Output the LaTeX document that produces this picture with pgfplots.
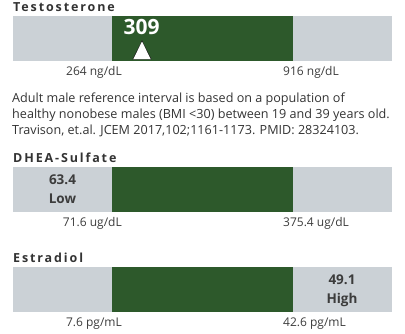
\documentclass[border=0pt]{standalone}
\usepackage{fontspec}
\setmainfont{Open Sans}
\newfontfamily\spaced{Open Sans}[LetterSpace=15]
\usepackage{pgfplots}
\pgfplotsset{compat=1.18}
\definecolor{bargray}{RGB}{203,209,214}
\definecolor{bargreen}{RGB}{45,89,43}
\definecolor{txt}{RGB}{51,51,51}
\definecolor{lbl}{RGB}{60,60,60}
\pgfplotsset{panel/.style={width=379pt,height=45pt,scale only axis,xmin=0,xmax=379,ymin=0,ymax=1,hide axis,clip=false,anchor=north west}}
\newcommand{\titlefont}{\fontsize{12.5}{14}\spaced\bfseries\color{txt}}
\newcommand{\rangefont}{\fontsize{12}{14}\selectfont\color{lbl}}
\newcommand{\valfont}{\fontsize{13.5}{16}\selectfont\bfseries\color{lbl}}
\begin{document}
\begin{tikzpicture}[x=1pt,y=1pt]
\path[use as bounding box] (0,0) rectangle (405,-334);
% ---------------- Testosterone
\begin{axis}[panel, at={(13pt,-16pt)}]
\addplot[fill=bargray,draw=none] coordinates {(0,0)(379,0)(379,1)(0,1)};
\addplot[fill=bargreen,draw=none] coordinates {(99,0)(280,0)(280,1)(99,1)};
\addplot[only marks, mark=triangle*, mark size=10.6pt, mark options={fill=white,draw=none,yscale=1.17}] coordinates {(129,0.176)};
\node[anchor=base, font=\fontsize{21}{24}\selectfont\bfseries, text=white, inner sep=0] at (axis cs:128.5,0.594) {309};
\node[anchor=base west, inner sep=0, font=\titlefont] at (axis cs:0,1.089) {Testosterone};
\node[anchor=base east, inner sep=0, font=\rangefont] at (axis cs:109,-0.333) {264 ng/dL};
\node[anchor=base west, inner sep=0, font=\rangefont] at (axis cs:270,-0.333) {916 ng/dL};
\end{axis}
% ---------------- paragraph
\begin{scope}[every node/.style={anchor=base west, inner sep=0, font=\fontsize{12.6}{16}\selectfont\color{txt}}]
\node at (12,-103) {Adult male reference interval is based on a population of};
\node at (12,-119) {healthy nonobese males (BMI <30) between 19 and 39 years old.};
\node at (12,-135) {Travison, et.al. JCEM 2017,102;1161-1173. PMID: 28324103.};
\end{scope}
% ---------------- DHEA-Sulfate
\begin{axis}[panel, at={(13pt,-167pt)}]
\addplot[fill=bargray,draw=none] coordinates {(0,0)(379,0)(379,1)(0,1)};
\addplot[fill=bargreen,draw=none] coordinates {(99,0)(280,0)(280,1)(99,1)};
\node[anchor=base west, inner sep=0, font=\titlefont] at (axis cs:0,1.089) {DHEA-Sulfate};
\node[anchor=base, inner sep=0, font=\valfont] at (axis cs:49.5,0.6) {63.4};
\node[anchor=base, inner sep=0, font=\valfont] at (axis cs:49.5,0.178) {Low};
\node[anchor=base east, inner sep=0, font=\rangefont] at (axis cs:109,-0.333) {71.6 ug/dL};
\node[anchor=base west, inner sep=0, font=\rangefont] at (axis cs:270,-0.333) {375.4 ug/dL};
\end{axis}
% ---------------- Estradiol
\begin{axis}[panel, at={(13pt,-267pt)}]
\addplot[fill=bargray,draw=none] coordinates {(0,0)(379,0)(379,1)(0,1)};
\addplot[fill=bargreen,draw=none] coordinates {(99,0)(280,0)(280,1)(99,1)};
\node[anchor=base west, inner sep=0, font=\titlefont] at (axis cs:0,1.089) {Estradiol};
\node[anchor=base, inner sep=0, font=\valfont] at (axis cs:329,0.6) {49.1};
\node[anchor=base, inner sep=0, font=\valfont] at (axis cs:329,0.178) {High};
\node[anchor=base east, inner sep=0, font=\rangefont] at (axis cs:109,-0.333) {7.6 pg/mL};
\node[anchor=base west, inner sep=0, font=\rangefont] at (axis cs:270,-0.333) {42.6 pg/mL};
\end{axis}
\end{tikzpicture}
\end{document}
